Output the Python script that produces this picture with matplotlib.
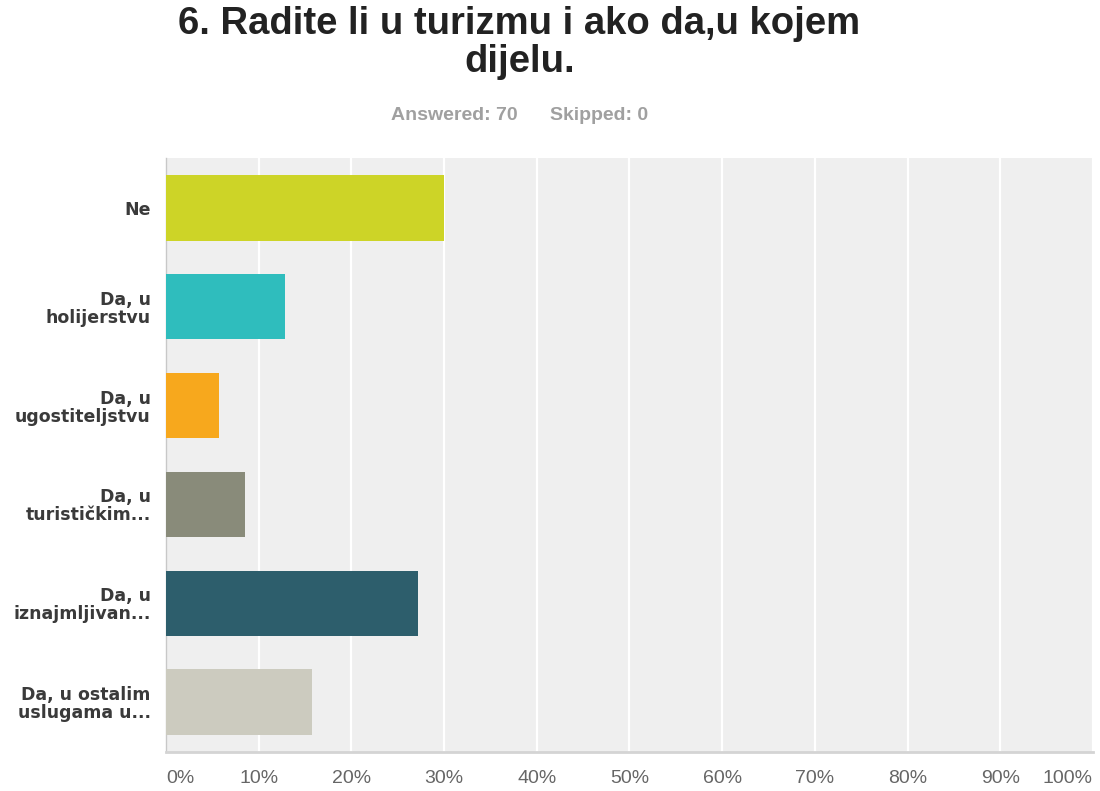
import matplotlib
matplotlib.use("Agg")
import matplotlib.pyplot as plt

# podaci ocitani sa slike (postotak ispitanika, N = 70)
categories = ["Ne", "Da, u\nholijerstvu", "Da, u\nugostiteljstvu",
              "Da, u\nturističkim...", "Da, u\niznajmljivan...",
              "Da, u ostalim\nuslugama u..."]
percentages = [30.0, 12.86, 5.71, 8.57, 27.14, 15.71]
bar_colors = ["#cdd427", "#2fbdbd", "#f7a81d", "#898b7a", "#2d5e6c", "#cccbbf"]
x_ticks = [0, 10, 20, 30, 40, 50, 60, 70, 80, 90, 100]
x_labels = [f"{t}%" for t in x_ticks]

fig = plt.figure(figsize=(11, 7.91), dpi=100)
ax = fig.add_axes([0.1509, 0.0493, 0.8427, 0.751])

ax.set_facecolor("#efefef")
y = list(range(len(categories)))
ax.barh(y, percentages, height=0.66, color=bar_colors, zorder=3)

ax.set_xlim(0, 100)
ax.set_ylim(len(categories) - 0.494, -0.506)

# bijele linije mreze
ax.set_xticks(x_ticks)
ax.xaxis.grid(True, color="white", linewidth=1.6, zorder=1)
ax.set_axisbelow(True)

ax.set_xticklabels(x_labels, family="Liberation Sans", fontsize=14, color="#666666")
for lbl, t in zip(ax.get_xticklabels(), x_ticks):
    if t == 0:
        lbl.set_horizontalalignment("left")
    elif t == 100:
        lbl.set_horizontalalignment("right")
ax.tick_params(axis="x", length=0, pad=13)

ax.set_yticks(y)
ax.set_yticklabels(categories, family="DejaVu Sans", fontweight="bold",
                   fontsize=12.5, color="#3a3a3a", linespacing=1.0)
ax.tick_params(axis="y", length=0, pad=11)

for side in ["top", "right"]:
    ax.spines[side].set_visible(False)
ax.spines["left"].set_color("#c8c8c8")
ax.spines["left"].set_linewidth(1.0)
ax.spines["bottom"].set_color("#d4d4d4")
ax.spines["bottom"].set_linewidth(2.0)

fig.text(0.472, 0.993, "6. Radite li u turizmu i ako da,u kojem\ndijelu.",
         ha="center", va="top", family="Liberation Sans", fontweight="bold",
         fontsize=27.5, color="#222222", linespacing=1.08)
fig.text(0.4727, 0.8546, "Answered: 70      Skipped: 0", ha="center", va="center",
         family="Liberation Sans", fontweight="bold", fontsize=14, color="#a0a0a0")

fig.savefig("out.png", dpi=100)
